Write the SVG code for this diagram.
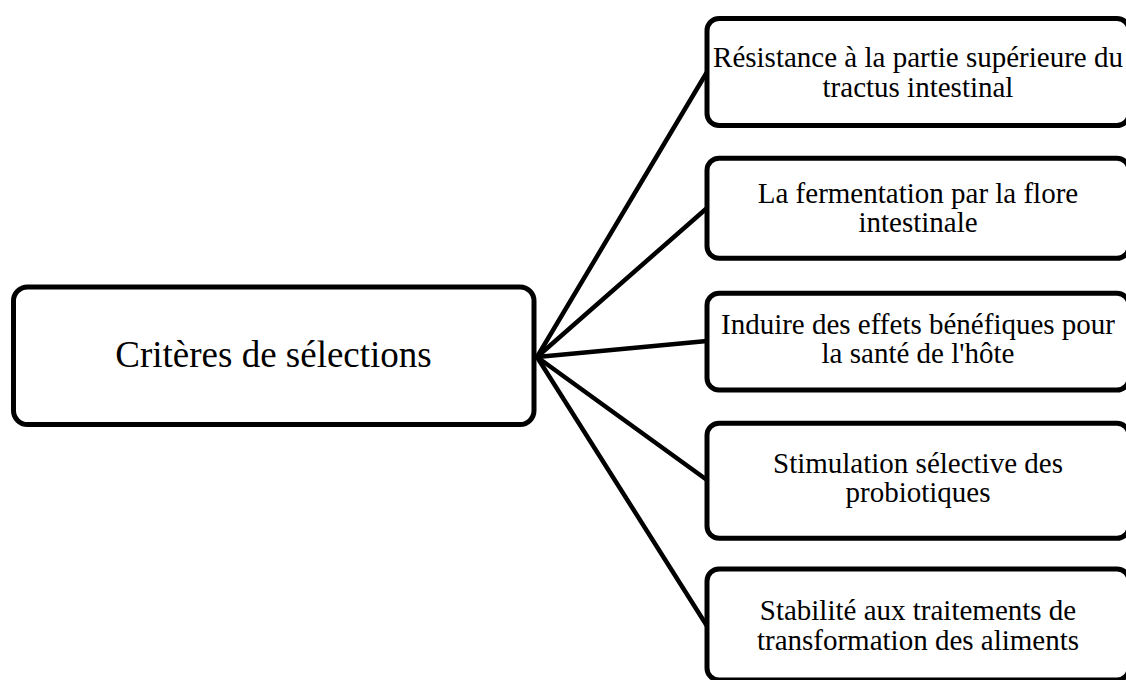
<svg xmlns="http://www.w3.org/2000/svg" width="1126" height="680" viewBox="0 0 1126 680">
<style>
.box{fill:#fff;stroke:#000;stroke-width:5}
.con{stroke:#000;stroke-width:4.5;fill:none;stroke-linecap:round}
.t{font-family:"Liberation Serif","Times New Roman",serif;fill:#000;text-anchor:middle}
.big{font-size:37px}
.small{font-size:29px}
</style>
<rect width="1126" height="680" fill="#fff"/>
<g id="connectors">
<line class="con" x1="537" y1="357" x2="707" y2="72"/>
<line class="con" x1="537" y1="357" x2="707" y2="208"/>
<line class="con" x1="537" y1="357" x2="707" y2="341"/>
<line class="con" x1="537" y1="357" x2="707" y2="480"/>
<line class="con" x1="537" y1="357" x2="707" y2="626"/>
</g>
<g id="root">
<rect class="box" x="13.5" y="287" width="520.5" height="137.5" rx="14"/>
<text class="t big" x="273.5" y="367">Critères de sélections</text>
</g>
<g id="n1">
<rect class="box" x="707" y="18.5" width="422" height="107" rx="12"/>
<text class="t small" x="918" y="67">Résistance à la partie supérieure du</text>
<text class="t small" x="918" y="96.5">tractus intestinal</text>
</g>
<g id="n2">
<rect class="box" x="707" y="158.3" width="422" height="100" rx="12"/>
<text class="t small" x="918" y="203">La fermentation par la flore</text>
<text class="t small" x="918" y="232">intestinale</text>
</g>
<g id="n3">
<rect class="box" x="707" y="293.3" width="422" height="96.7" rx="12"/>
<text class="t small" x="918" y="334">Induire des effets bénéfiques pour</text>
<text class="t small" x="918" y="363">la santé de l'hôte</text>
</g>
<g id="n4">
<rect class="box" x="707" y="423.3" width="422" height="115" rx="12"/>
<text class="t small" x="918" y="473">Stimulation sélective des</text>
<text class="t small" x="918" y="502">probiotiques</text>
</g>
<g id="n5">
<rect class="box" x="707" y="569" width="422" height="111" rx="12"/>
<text class="t small" x="918" y="620">Stabilité aux traitements de</text>
<text class="t small" x="918" y="650">transformation des aliments</text>
</g>
</svg>
